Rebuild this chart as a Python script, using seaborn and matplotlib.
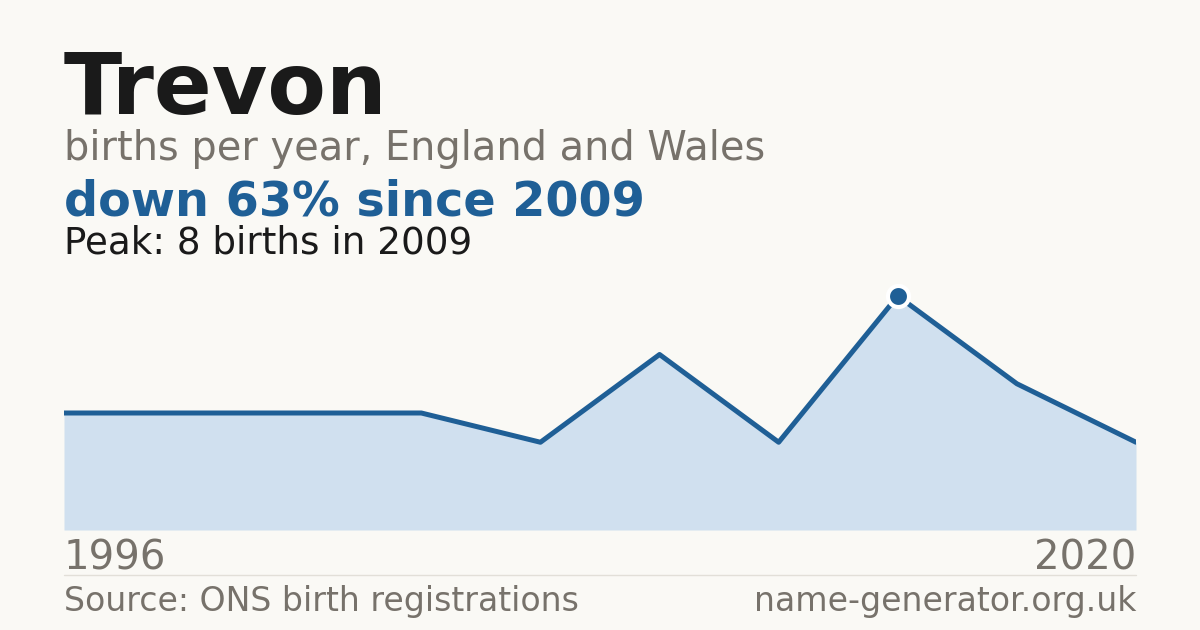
import matplotlib
matplotlib.use("Agg")
import matplotlib.pyplot as plt
import seaborn as sns
import pandas as pd

# data
births = [4, 4, 4, 4, 3, 6, 3, 8, 5, 3]
first_year = 1996
last_year = 2020
peak_year = 2009
peak_idx = 7

bg = "#faf9f5"
ink = "#1a1a1a"
grey = "#77726b"
blue = "#1f5f96"
fill = "#d0e0ef"

sns.set_theme(style="white")
plt.rcParams["font.family"] = ["DejaVu Sans"]

df = pd.DataFrame({"x": range(len(births)), "births": births})

fig = plt.figure(figsize=(12, 6.3), dpi=100, facecolor=bg)
ax = fig.add_axes([64 / 1200, 1 - 530 / 630, 1072 / 1200, 250 / 630])
ax.set_facecolor(bg)

ax.fill_between(df["x"], 0, df["births"], color=fill, lw=0)
sns.lineplot(data=df, x="x", y="births", ax=ax, color=blue, lw=3.6)
sns.scatterplot(x=[peak_idx], y=[births[peak_idx]], ax=ax, color=blue, s=230,
                edgecolor="white", linewidth=3, zorder=5)

ax.set_xlim(0, len(births) - 1)
ax.set_ylim(0, max(births) * 250 / 234)
ax.set_axis_off()

peak = max(births)
drop = int((peak - births[-1]) / peak * 100 + 0.5)

fig.text(64 / 1200, 1 - 114 / 630, "Trevon", fontsize=61.5, fontweight="bold",
         color=ink, va="baseline")
fig.text(64 / 1200, 1 - 160 / 630, "births per year, England and Wales",
         fontsize=28.7, color=grey, va="baseline")
fig.text(64 / 1200, 1 - 215 / 630, f"down {drop}% since {peak_year}",
         fontsize=34.4, fontweight="bold", color=blue, va="baseline")
fig.text(64 / 1200, 1 - 254 / 630, f"Peak: {peak} births in {peak_year}",
         fontsize=26.8, color=ink, va="baseline")

fig.text(64 / 1200, 1 - 570 / 630, str(first_year), fontsize=28.9, color=grey,
         va="baseline")
fig.text(1136 / 1200, 1 - 570 / 630, str(last_year), fontsize=28.9, color=grey,
         va="baseline", ha="right")

fig.add_artist(plt.Line2D([64 / 1200, 1136 / 1200], [1 - 574.5 / 630] * 2,
                          color="#e2dfd8", lw=1))

fig.text(64 / 1200, 1 - 611 / 630, "Source: ONS birth registrations",
         fontsize=23.9, color=grey, va="baseline")
fig.text(1136 / 1200, 1 - 611 / 630, "name-generator.org.uk", fontsize=23.9,
         color=grey, va="baseline", ha="right")

fig.savefig("out.png", dpi=100, facecolor=bg)
